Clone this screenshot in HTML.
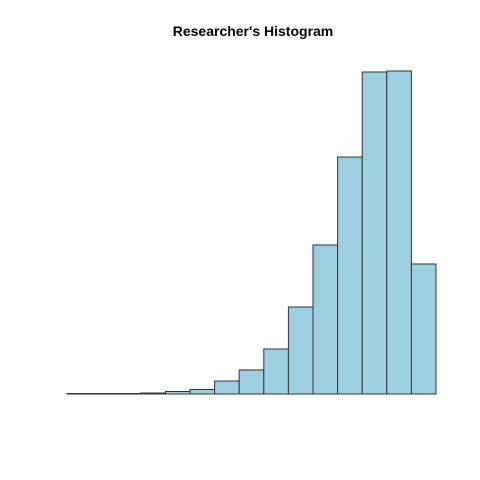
<!DOCTYPE html>
<html><head><style>body{margin:0;background:#fff}svg{display:block}</style></head>
<body>
<svg id="c" width="480" height="480">
<text x="253" y="36" text-anchor="middle" font-family="Liberation Sans, sans-serif" font-weight="bold" font-size="14">Researcher's Histogram</text>
<g id="bars"></g>
</svg>
<script>
const binIndex=[1,2,3,4,5,6,7,8,9,10,11,12,13,14,15];
const counts=[0.5,0.5,0.5,1,2.5,4.5,13,24,45,87,149,237,322,323,130];
const x0=67,bw=24.6,y0=394,yScale=1;
const xs=i=>x0+i*bw, ys=v=>y0-v*yScale;
const g=document.getElementById('bars');
counts.forEach((v,i)=>{
 const r=document.createElementNS('http://www.w3.org/2000/svg','rect');
 r.setAttribute('x',xs(i));r.setAttribute('width',bw);
 r.setAttribute('y',ys(v));r.setAttribute('height',y0-ys(v));
 r.setAttribute('fill','#9ecfe0');r.setAttribute('stroke','#333');r.setAttribute('stroke-width','1');
 
 
 g.appendChild(r);
});
</script>
</body></html>
